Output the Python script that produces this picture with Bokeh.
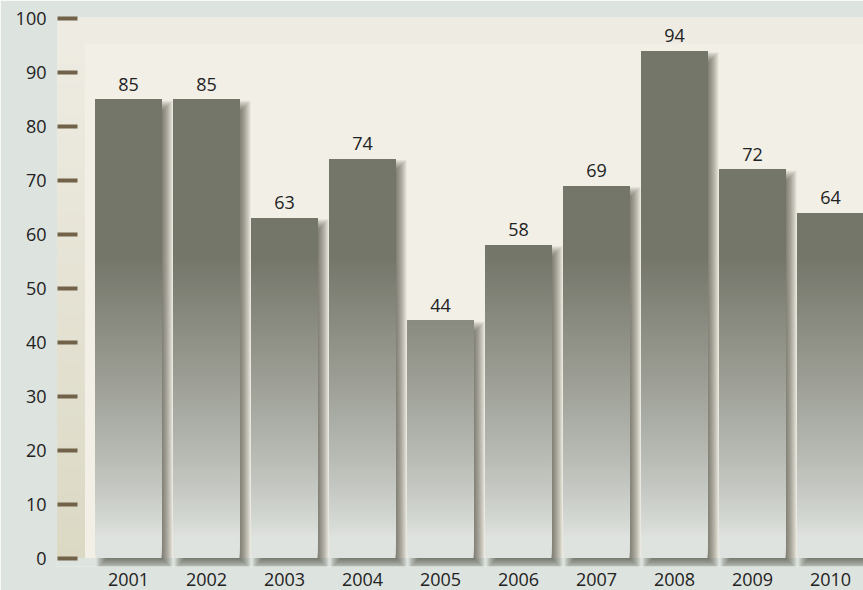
import numpy as np
from bokeh.plotting import figure
from bokeh.models import Range1d, FixedTicker, ColumnDataSource, LabelSet
from bokeh.core.properties import value
from bokeh.embed import file_html
from bokeh.resources import INLINE

# ---- data ----
years = ["2001", "2002", "2003", "2004", "2005", "2006", "2007", "2008", "2009", "2010"]
values = [85, 85, 63, 74, 44, 58, 69, 94, 72, 64]
y_ticks = [0, 10, 20, 30, 40, 50, 60, 70, 80, 90, 100]

# ---- style constants ----
BG = "#dde3df"
BEIGE = "#eeece2"
DARK = np.array([0x75, 0x76, 0x6a])
LIGHT = np.array([0xdf, 0xe3, 0xdf])
TICK = "#716249"
TXT = "#222222"
FONT = "Open Sans"
PX_X = 78.0      # pixels per x unit
PX_Y = 5.393     # pixels per y unit
BAR_W = 66 / PX_X

x = list(range(len(years)))

p = figure(width=863, height=590, output_backend="svg", toolbar_location=None,
           x_range=Range1d(-0.910, 9.423), y_range=Range1d(-1.56, 100.24),
           min_border_left=57, min_border_right=0, min_border_top=17, min_border_bottom=24)
p.background_fill_color = BG
p.border_fill_color = BG
p.outline_line_color = None
p.grid.visible = False

# beige backdrop
p.quad(left=[-2], right=[11], bottom=[0], top=[101], fill_color=BEIGE, line_color=None)
# slightly lighter inner panel
p.quad(left=[(84 - 128) / PX_X], right=[11], bottom=[0], top=[95.4],
       fill_color="#f1efe6", line_color=None)


def hexcol(c):
    return "#%02x%02x%02x" % tuple(int(round(v)) for v in c)


# darker left strip with vertical gradient (overlapping bands, no seams)
lb, rb, bb, tb, cb = [], [], [], [], []
step = 1.0
for b in np.arange(0, 95.4, step)[::-1]:
    t = min(1.0, (b + step / 2) / 95.0)
    c = np.array([0xdb, 0xd8, 0xc4]) * (1 - t) + np.array([0xee, 0xec, 0xe2]) * t
    lb.append(-0.95); rb.append((84 - 128) / PX_X); bb.append(0); tb.append(b + step); cb.append(hexcol(c))
p.quad(left=lb, right=rb, bottom=bb, top=tb, fill_color=cb, line_color=None)

# blurred drop shadows
sl, sr, sb, st = [], [], [], []
for xi, v in zip(x, values):
    L = xi - BAR_W / 2
    R = xi + BAR_W / 2
    for d in range(-5, 6):
        sl.append(L + (6 + d) / PX_X)
        sr.append(R + (6 - d) / PX_X)
        sb.append(-(6 - d) / PX_Y)
        st.append(v - (6 + d) / PX_Y)
p.quad(left=sl, right=sr, bottom=sb, top=st, fill_color="#30302a", fill_alpha=0.075, line_color=None)

# gradient bars (colour depends on absolute height); bands overlap downwards
ql, qr, qb, qt, qc = [], [], [], [], []
step = 0.5
for xi, v in zip(x, values):
    for b in np.arange(0, v, step):
        top = min(b + step, v)
        mid = (b + top) / 2
        s = np.clip((mid - 4) / (56 - 4), 0, 1) ** 0.8
        c = LIGHT * (1 - s) + DARK * s
        ql.append(xi - BAR_W / 2); qr.append(xi + BAR_W / 2)
        qb.append(b); qt.append(v); qc.append(hexcol(c))
p.quad(left=ql, right=qr, bottom=qb, top=qt, fill_color=qc, line_color=None)

# value labels
src = ColumnDataSource(dict(x=x, y=values, t=[str(v) for v in values]))
p.add_layout(LabelSet(x="x", y="y", text="t", source=src, y_offset=9,
                      text_align="center", text_baseline="alphabetic",
                      text_font=value(FONT), text_font_size=value("18px"),
                      text_color=value(TXT)))

# axes
ya = p.yaxis[0]
ya.ticker = FixedTicker(ticks=y_ticks)
ya.axis_line_color = None
ya.major_tick_in = 20
ya.major_tick_out = 0
ya.major_tick_line_width = 4
ya.major_tick_line_color = TICK
ya.minor_tick_line_color = None
ya.major_label_standoff = 11
ya.major_label_text_font = FONT
ya.major_label_text_font_size = "18px"
ya.major_label_text_color = TXT

xa = p.xaxis[0]
xa.ticker = FixedTicker(ticks=x)
xa.major_label_overrides = {i: y for i, y in zip(x, years)}
xa.axis_line_color = None
xa.major_tick_in = 0
xa.major_tick_out = 0
xa.minor_tick_line_color = None
xa.major_label_standoff = 6
xa.major_label_text_font = FONT
xa.major_label_text_font_size = "18px"
xa.major_label_text_color = TXT

open("out.html", "w").write(file_html(p, INLINE))
